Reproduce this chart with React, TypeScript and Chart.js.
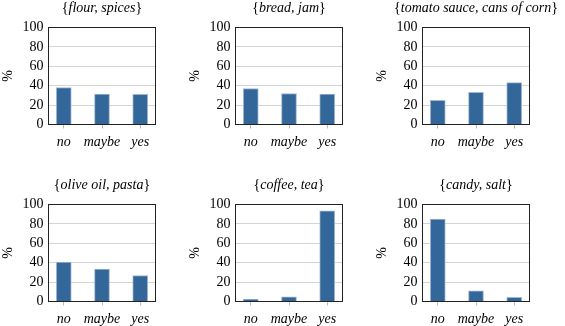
import React, { useEffect, useRef } from "react";
import { Chart, registerables } from "chart.js";

Chart.register(...registerables);

const categories = ["no", "maybe", "yes"];
const panelTitles = [
  "flour, spices",
  "bread, jam",
  "tomato sauce, cans of corn",
  "olive oil, pasta",
  "coffee, tea",
  "candy, salt",
];
const flourSpices = [38.1, 31.4, 31.1];
const breadJam = [37.1, 32.0, 31.3];
const tomatoCorn = [25.0, 33.2, 43.2];
const oliveOilPasta = [40.6, 33.3, 26.8];
const coffeeTea = [2.3, 4.8, 93.6];
const candySalt = [85.0, 11.0, 4.4];
const panelValues = [flourSpices, breadJam, tomatoCorn, oliveOilPasta, coffeeTea, candySalt];
const yTicks = [0, 20, 40, 60, 80, 100];

const SERIF = '"Liberation Serif", "Times New Roman", serif';

function Panel({ title, values, left, top }: { title: string; values: number[]; left: number; top: number }) {
  const ref = useRef<HTMLCanvasElement>(null);
  useEffect(() => {
    const framePlugin = {
      id: "frame",
      afterDraw(chart: any) {
        const { ctx, chartArea: a } = chart;
        ctx.save();
        ctx.strokeStyle = "#222";
        ctx.lineWidth = 1;
        ctx.strokeRect(a.left, a.top, a.right - a.left, a.bottom - a.top);
        // title
        const up = `14px ${SERIF}`;
        const it = `italic 14px ${SERIF}`;
        ctx.fillStyle = "#000";
        ctx.textBaseline = "alphabetic";
        ctx.textAlign = "left";
        ctx.font = up;
        const wL = ctx.measureText("{").width;
        const wR = ctx.measureText("}").width;
        ctx.font = it;
        const wM = ctx.measureText(title).width;
        const total = wL + wM + wR;
        const cx = (a.left + a.right) / 2;
        const y = a.top - 16;
        let x = cx - total / 2;
        ctx.font = up;
        ctx.fillText("{", x, y);
        x += wL;
        ctx.font = it;
        ctx.fillText(title, x, y);
        x += wM;
        ctx.font = up;
        ctx.fillText("}", x, y);
        // y axis title
        ctx.translate(a.left - 40, (a.top + a.bottom) / 2);
        ctx.rotate(-Math.PI / 2);
        ctx.textAlign = "center";
        ctx.textBaseline = "middle";
        ctx.font = up;
        ctx.fillText("%", 0, 0);
        ctx.restore();
      },
    };
    const chart = new Chart(ref.current as HTMLCanvasElement, {
      type: "bar",
      data: {
        datasets: [
          {
            data: values.map((v, i) => ({ x: i, y: v })),
            backgroundColor: "#336699",
            borderColor: "#9fb7d4",
            borderWidth: 1,
            barThickness: 15,
          } as any,
        ],
      },
      options: {
        animation: false,
        responsive: false,
        layout: { padding: { top: 27.5, right: 31.5, left: 0, bottom: 0 } },
        plugins: { legend: { display: false }, tooltip: { enabled: false }, title: { display: false } },
        scales: {
          x: {
            type: "linear",
            offset: false,
            min: -0.4,
            max: 2.4,
            afterBuildTicks: (s: any) => {
              s.ticks = categories.map((_, i) => ({ value: i }));
            },
            afterFit: (s: any) => {
              s.height = 24.5;
            },
            grid: { offset: false, drawOnChartArea: false, drawTicks: true, tickLength: 4, color: "#bbbbbb" },
            border: { display: false },
            ticks: {
              padding: 5,
              autoSkip: false,
              maxRotation: 0,
              minRotation: 0,
              color: "#000",
              font: { family: SERIF, size: 14, style: "italic" },
              callback: (v: any) => categories[Number(v)] ?? "",
            },
          },
          y: {
            min: 0,
            max: 100,
            afterBuildTicks: (s: any) => {
              s.ticks = yTicks.map((v) => ({ value: v }));
            },
            afterFit: (s: any) => {
              s.width = 48.5;
            },
            grid: { drawTicks: false, color: "#d4d4d4" },
            border: { display: false },
            ticks: { padding: 5, autoSkip: false, color: "#000", font: { family: SERIF, size: 14 } },
          },
        },
      } as any,
      plugins: [framePlugin],
    });
    return () => chart.destroy();
  }, [title, values]);
  return (
    <canvas
      ref={ref}
      width={187}
      height={149}
      style={{ position: "absolute", left, top, width: 187, height: 149 }}
    />
  );
}

export default function App() {
  return (
    <div
      style={{
        position: "absolute",
        left: 0,
        top: 0,
        width: 565,
        height: 326,
        overflow: "hidden",
        background: "#fff",
      }}
    >
      {panelValues.map((vals, i) => (
        <Panel
          key={i}
          title={panelTitles[i]}
          values={vals}
          left={187 * (i % 3)}
          top={177 * Math.floor(i / 3)}
        />
      ))}
    </div>
  );
}
